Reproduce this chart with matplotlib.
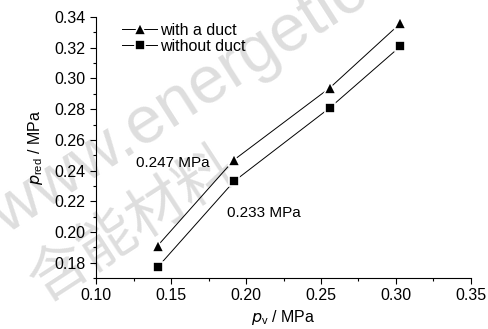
import matplotlib.pyplot as plt
from matplotlib.ticker import MultipleLocator

plt.rcParams['font.family'] = ['Liberation Sans', 'DejaVu Sans']

pv = [0.141, 0.192, 0.256, 0.303]
with_duct = [0.191, 0.247, 0.294, 0.336]
without_duct = [0.177, 0.233, 0.281, 0.321]

fig = plt.figure(figsize=(4.88, 3.29), dpi=100)
ax = fig.add_axes([0.197, 0.155, 0.768, 0.793])
ax.patch.set_alpha(0)

# faint watermark behind the axes
fig.text(0.012, 0.286, "www.energetic", fontsize=48, color='#dedede', rotation=32.6,
         rotation_mode='anchor', ha='left', va='baseline', zorder=-1)
fig.text(0.273, 0.319, "含能材料", fontsize=42, color='#dedede', rotation=33,
         rotation_mode='anchor', ha='center', va='center', zorder=-1,
         fontweight='light', family=['Noto Sans CJK SC', 'DejaVu Sans'])

ax.plot(pv, with_duct, '-^', color='black', lw=0.7, ms=8, mfc='black',
        mec='white', mew=1.2, label='with a duct')
ax.plot(pv, without_duct, '-s', color='black', lw=0.7, ms=7, mfc='black',
        mec='white', mew=1.2, label='without duct')

ax.text(0.1267, 0.245, "0.247 MPa", fontsize=11, ha='left', va='center')
ax.text(0.1873, 0.2123, "0.233 MPa", fontsize=11, ha='left', va='center')

ax.set_xlim(0.10, 0.35)
ax.set_ylim(0.17, 0.34)
ax.xaxis.set_major_locator(MultipleLocator(0.05))
ax.xaxis.set_minor_locator(MultipleLocator(0.025))
ax.set_yticks([0.18, 0.20, 0.22, 0.24, 0.26, 0.28, 0.30, 0.32, 0.34])
ax.yaxis.set_minor_locator(MultipleLocator(0.01))
ax.xaxis.set_major_formatter(plt.FormatStrFormatter('%.2f'))
ax.yaxis.set_major_formatter(plt.FormatStrFormatter('%.2f'))
ax.tick_params(which='major', direction='out', length=4, width=0.8, labelsize=11.5)
ax.tick_params(which='minor', direction='out', length=2.5, width=0.8)
ax.spines['top'].set_visible(False)
ax.spines['right'].set_visible(False)

ax.set_xlabel(r"$p_\mathregular{v}$ / MPa", fontsize=11.5, labelpad=3)
ax.set_ylabel(r"$p_\mathregular{red}$ / MPa", fontsize=11.5, labelpad=7)

ax.legend(loc='upper left', bbox_to_anchor=(0.04, 1.02), frameon=False, fontsize=11.5,
          handlelength=2.2, handletextpad=0.15, labelspacing=0.05, borderpad=0.2)

fig.savefig("out.png", dpi=100)
